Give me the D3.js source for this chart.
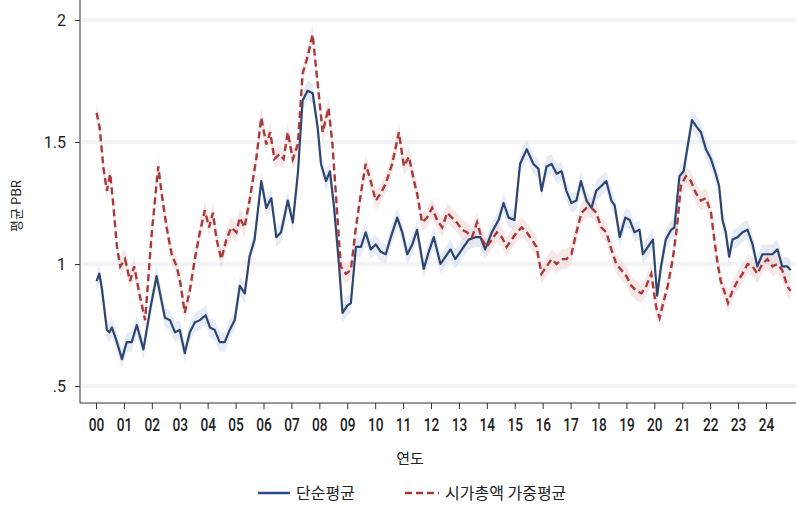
<!DOCTYPE html>
<html>
<head>
<meta charset="utf-8">
<script src="https://cdn.jsdelivr.net/npm/d3@7"></script>
<style>
  body { margin: 0; background: #fff; }
  text { font-family: "Noto Sans CJK KR", "Noto Sans", sans-serif; fill: #222; }
</style>
</head>
<body>
<svg id="chart" width="796" height="507"></svg>
<script>
// Average PBR, simple mean (solid) vs. market-cap weighted mean (dashed)
const simpleYears = [2000.02,2000.12,2000.21,2000.39,2000.48,2000.57,2000.75,2000.93,2001.10,2001.28,2001.46,2001.70,2001.95,2002.17,2002.47,2002.65,2002.83,2003.00,2003.18,2003.36,2003.54,2003.72,2003.93,2004.08,2004.25,2004.43,2004.61,2004.79,2004.97,2005.15,2005.33,2005.50,2005.68,2005.92,2006.10,2006.28,2006.46,2006.63,2006.87,2007.05,2007.23,2007.40,2007.58,2007.76,2007.94,2008.06,2008.24,2008.38,2008.53,2008.71,2008.83,2009.01,2009.13,2009.31,2009.49,2009.66,2009.84,2010.02,2010.20,2010.38,2010.56,2010.79,2010.97,2011.15,2011.33,2011.50,2011.74,2011.92,2012.10,2012.34,2012.52,2012.70,2012.87,2013.11,2013.35,2013.59,2013.77,2013.94,2014.18,2014.42,2014.60,2014.78,2014.99,2015.19,2015.43,2015.67,2015.85,2015.96,2016.14,2016.32,2016.50,2016.68,2016.85,2017.03,2017.21,2017.37,2017.57,2017.75,2017.92,2018.10,2018.28,2018.46,2018.58,2018.76,2018.96,2019.12,2019.29,2019.47,2019.59,2019.77,2019.95,2020.10,2020.24,2020.41,2020.60,2020.72,2020.90,2021.05,2021.19,2021.35,2021.53,2021.67,2021.85,2022.03,2022.20,2022.32,2022.44,2022.56,2022.68,2022.80,2022.98,2023.16,2023.34,2023.52,2023.69,2023.87,2024.05,2024.23,2024.41,2024.58,2024.76,2024.88];
const simpleValues = [0.93,0.96,0.90,0.73,0.72,0.74,0.68,0.61,0.68,0.68,0.75,0.65,0.82,0.95,0.78,0.77,0.72,0.73,0.635,0.72,0.76,0.77,0.79,0.74,0.73,0.68,0.68,0.73,0.77,0.91,0.88,1.03,1.10,1.34,1.23,1.27,1.11,1.13,1.26,1.17,1.37,1.67,1.71,1.70,1.56,1.41,1.34,1.38,1.23,0.99,0.80,0.83,0.84,1.07,1.07,1.13,1.06,1.08,1.05,1.04,1.11,1.19,1.13,1.04,1.08,1.14,0.98,1.05,1.11,1.00,1.03,1.06,1.02,1.06,1.10,1.11,1.11,1.06,1.13,1.18,1.25,1.19,1.18,1.41,1.47,1.41,1.39,1.30,1.40,1.41,1.37,1.38,1.30,1.25,1.26,1.34,1.26,1.23,1.30,1.32,1.34,1.26,1.24,1.11,1.19,1.18,1.13,1.14,1.04,1.07,1.10,0.87,0.99,1.10,1.14,1.15,1.36,1.38,1.48,1.59,1.56,1.54,1.47,1.43,1.37,1.32,1.18,1.13,1.03,1.10,1.11,1.13,1.14,1.08,0.99,1.04,1.04,1.04,1.06,0.99,0.99,0.975];

const weightedYears = [2000.02,2000.13,2000.27,2000.39,2000.51,2000.63,2000.75,2000.87,2001.04,2001.22,2001.37,2001.55,2001.76,2002.00,2002.23,2002.35,2002.53,2002.71,2002.89,2003.01,2003.18,2003.36,2003.54,2003.72,2003.90,2004.05,2004.19,2004.32,2004.49,2004.67,2004.85,2005.03,2005.15,2005.32,2005.50,2005.74,2005.92,2006.10,2006.24,2006.39,2006.57,2006.72,2006.87,2007.05,2007.23,2007.40,2007.58,2007.76,2007.94,2008.12,2008.33,2008.47,2008.65,2008.77,2008.95,2009.13,2009.31,2009.49,2009.66,2009.84,2010.02,2010.20,2010.38,2010.61,2010.85,2011.03,2011.21,2011.39,2011.50,2011.68,2011.86,2012.04,2012.22,2012.40,2012.58,2012.75,2012.93,2013.11,2013.29,2013.47,2013.65,2013.83,2014.00,2014.18,2014.36,2014.54,2014.71,2014.89,2015.07,2015.25,2015.43,2015.61,2015.78,2015.96,2016.14,2016.32,2016.50,2016.68,2016.85,2017.03,2017.21,2017.39,2017.57,2017.75,2017.92,2018.10,2018.28,2018.46,2018.64,2018.82,2019.00,2019.18,2019.36,2019.54,2019.71,2019.89,2020.07,2020.19,2020.34,2020.48,2020.66,2020.81,2020.95,2021.13,2021.31,2021.49,2021.67,2021.85,2022.03,2022.15,2022.27,2022.38,2022.50,2022.64,2022.80,2022.98,2023.16,2023.34,2023.52,2023.69,2023.87,2024.05,2024.23,2024.41,2024.58,2024.76,2024.88];
const weightedValues = [1.62,1.56,1.39,1.30,1.37,1.23,1.07,0.99,1.02,0.93,0.99,0.88,0.77,1.13,1.40,1.29,1.15,1.04,0.99,0.93,0.80,0.89,1.02,1.13,1.22,1.15,1.21,1.10,1.02,1.10,1.15,1.13,1.19,1.15,1.26,1.43,1.60,1.49,1.54,1.43,1.45,1.43,1.54,1.43,1.49,1.78,1.85,1.94,1.74,1.54,1.64,1.49,1.19,0.99,0.96,0.975,1.15,1.29,1.41,1.34,1.26,1.29,1.33,1.41,1.54,1.40,1.44,1.34,1.29,1.17,1.19,1.23,1.18,1.15,1.21,1.19,1.17,1.14,1.13,1.11,1.17,1.10,1.07,1.10,1.13,1.11,1.07,1.10,1.13,1.15,1.13,1.10,1.07,0.96,0.99,1.02,1.00,1.02,1.02,1.04,1.13,1.21,1.23,1.23,1.21,1.15,1.13,1.06,1.00,0.975,0.95,0.91,0.89,0.88,0.91,0.96,0.82,0.78,0.85,0.91,1.02,1.15,1.32,1.36,1.34,1.29,1.26,1.27,1.21,1.10,1.00,0.93,0.89,0.84,0.89,0.93,0.96,1.00,0.99,0.96,1.00,1.02,0.99,1.00,0.975,0.91,0.89];

const yearTicks = d3.range(2000, 2025);
const yTickValues = [0.5, 1, 1.5, 2];
const yTickLabels = [".5", "1", "1.5", "2"];
const bandHalfWidth = 0.04;   // half-width of the shaded interval around each line
const seriesNames = ["단순평균", "시가총액 가중평균"];
const xTitle = "연도";
const yTitle = "평균 PBR";

const svg = d3.select("#chart");
const x = d3.scaleLinear().domain([2000, 2024]).range([96, 766]);
const y = d3.scaleLinear().domain([0.5, 2]).range([386, 20]);
const axisY = 403, axisX = 80;

// horizontal grid
svg.append("g").selectAll("line").data(yTickValues).join("line")
  .attr("x1", axisX + 2).attr("x2", 796)
  .attr("y1", d => y(d)).attr("y2", d => y(d))
  .attr("stroke", "#f1f3f5").attr("stroke-width", 4);

const simple = simpleYears.map((t, i) => ({ t, v: simpleValues[i] }));
const weighted = weightedYears.map((t, i) => ({ t, v: weightedValues[i] }));

const band = d3.area().x(d => x(d.t))
  .y0(d => y(d.v - bandHalfWidth)).y1(d => y(d.v + bandHalfWidth));
const line = d3.line().x(d => x(d.t)).y(d => y(d.v));

svg.append("path").datum(simple).attr("d", band)
  .attr("fill", "#cbdaeb").attr("opacity", 0.5);
svg.append("path").datum(weighted).attr("d", band)
  .attr("fill", "#f0d2d2").attr("opacity", 0.5);

svg.append("path").datum(simple).attr("d", line)
  .attr("fill", "none").attr("stroke", "#2e4570").attr("stroke-width", 2.2)
  .attr("stroke-linejoin", "round");
svg.append("path").datum(weighted).attr("d", line)
  .attr("fill", "none").attr("stroke", "#a8393c").attr("stroke-width", 2.4)
  .attr("stroke-dasharray", "7,4");

// axes
const xAxis = d3.axisBottom(x).tickValues(yearTicks)
  .tickFormat(d => String(d % 100).padStart(2, "0"))
  .tickSize(6).tickSizeOuter(0);
const gx = svg.append("g").attr("transform", `translate(0,${axisY})`).call(xAxis);
gx.select(".domain").remove();
gx.append("line").attr("x1", axisX).attr("x2", 796).attr("y1", 0).attr("y2", 0)
  .attr("stroke", "#333").attr("stroke-width", 1);
gx.selectAll(".tick line").attr("stroke", "#333");
gx.selectAll(".tick text")
  .attr("y", 0)
  .attr("transform", "translate(0,28) scale(0.72,1)")
  .attr("dy", 0)
  .style("font-family", "Roboto, sans-serif").style("font-size", "19px")
  .style("font-weight", 500).attr("fill", "#1a1a1a");

const yAxis = d3.axisLeft(y).tickValues(yTickValues)
  .tickFormat((d, i) => yTickLabels[i]).tickSize(5).tickSizeOuter(0);
const gy = svg.append("g").attr("transform", `translate(${axisX},0)`).call(yAxis);
gy.select(".domain").remove();
gy.append("line").attr("x1", 0).attr("x2", 0).attr("y1", 0).attr("y2", axisY)
  .attr("stroke", "#333");
gy.selectAll(".tick line").attr("stroke", "#333");
gy.selectAll(".tick text").attr("x", -14)
  .style("font-family", "Roboto, sans-serif").style("font-size", "16px").attr("fill", "#222");

// titles
svg.append("text").attr("x", 410).attr("y", 464).attr("text-anchor", "middle")
  .style("font-size", "15px").text(xTitle);
svg.append("text").attr("transform", "translate(21,206) rotate(-90)")
  .attr("text-anchor", "middle").style("font-size", "13px").text(yTitle);

// legend
const lg = svg.append("g");
lg.append("line").attr("x1", 258).attr("x2", 290).attr("y1", 493).attr("y2", 493)
  .attr("stroke", "#2b4a8a").attr("stroke-width", 2.5);
lg.append("text").attr("x", 296).attr("y", 499).style("font-size", "16px").text(seriesNames[0]);
lg.append("line").attr("x1", 405).attr("x2", 439).attr("y1", 493).attr("y2", 493)
  .attr("stroke", "#b03434").attr("stroke-width", 2.5).attr("stroke-dasharray", "7,4");
lg.append("text").attr("x", 445).attr("y", 499).style("font-size", "16px").text(seriesNames[1]);
</script>
</body>
</html>
